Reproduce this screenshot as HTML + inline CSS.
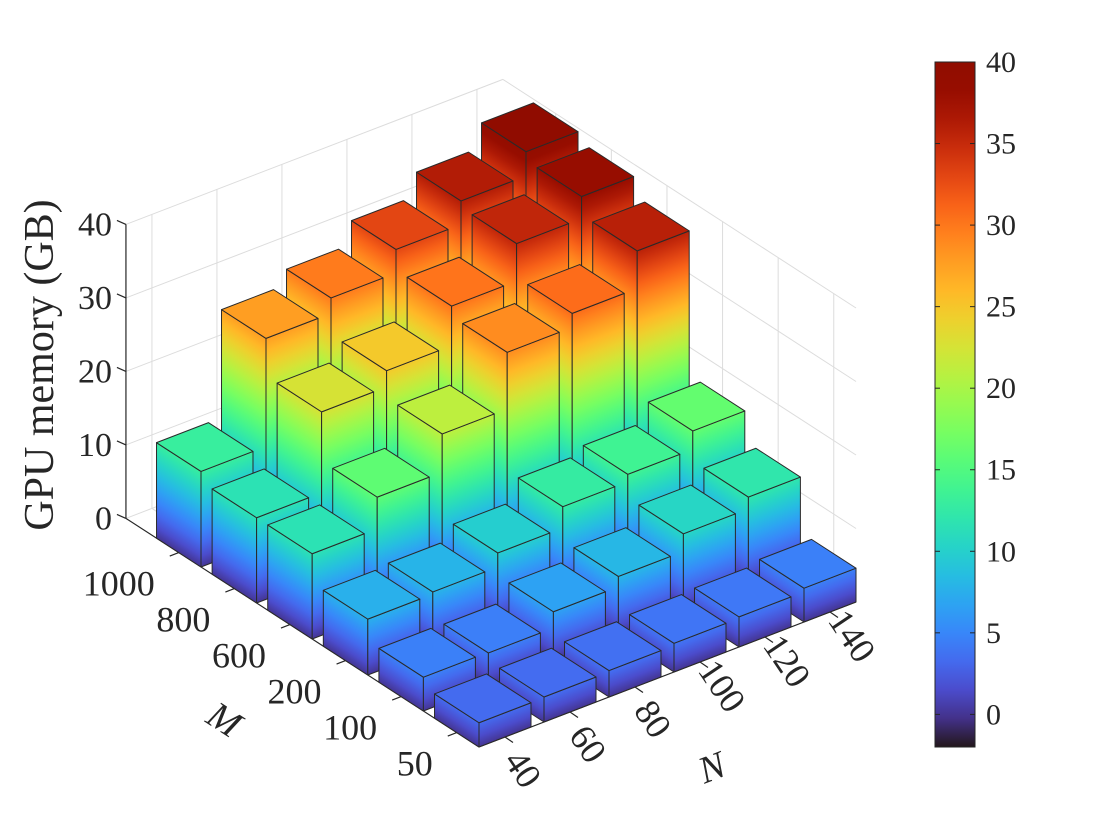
<!DOCTYPE html>
<html><head><meta charset="utf-8">
<style>
html,body{margin:0;padding:0;background:#fff;}
svg{display:block;font-family:"Liberation Serif","DejaVu Serif",serif;}
</style></head>
<body>
<svg id="chart" width="1120" height="840" viewBox="0 0 1120 840" xmlns="http://www.w3.org/2000/svg">
<defs id="defs"></defs>
<g id="grid"></g>
<g id="axes"></g>
<g id="bars"></g>
<g id="labels"></g>
<g id="colorbar"></g>
</svg>
<script>
// ---- data ----
const nLabels = ["40","60","80","100","120","140"];
const mLabels = ["50","100","200","600","800","1000"];
const memM50   = [3.3, 3.4, 3.6, 3.9, 4.1, 4.6];
const memM100  = [4.6, 4.5, 6.7, 8.1, 10.5, 12.1];
const memM200  = [7.6, 7.9, 9.8, 12.7, 13.7, 16.2];
const memM600  = [11.6, 15.9, 21.1, 28.8, 30.7, 35.8];
const memM800  = [11.6, 22.6, 24.8, 30.2, 35.3, 38.3];
const memM1000 = [13.0, 27.7, 29.8, 33.0, 36.2, 39.5];
const zTicks = [0, 10, 20, 30, 40];
const cbTicks = [0, 5, 10, 15, 20, 25, 30, 35, 40];
const colorMin = -2, colorMax = 40;

const rows = [memM50, memM100, memM200, memM600, memM800, memM1000];
const NS = "http://www.w3.org/2000/svg";
const OX = 479, OY = 747, K = 7.35;
const UMAX = nLabels.length - 0.2, VMAX = mLabels.length + 0.35, ZMAX = 40;
function P(u, v, z) { return [OX + 65 * u - 55.6 * v, OY - 25 * u - 36 * v - K * z]; }
function turbo(t) {
  t = Math.max(0, Math.min(1, t));
  const r = 0.13572138 + t*(4.61539260 + t*(-42.66032258 + t*(132.13108234 + t*(-152.94239396 + t*59.28637943))));
  const g = 0.09140261 + t*(2.19418839 + t*(4.84296658 + t*(-14.18503333 + t*(4.27729857 + t*2.82956604))));
  const b = 0.10667330 + t*(12.64194608 + t*(-60.58204836 + t*(110.36276771 + t*(-89.90310912 + t*27.34824973))));
  const c = x => Math.round(255 * Math.max(0, Math.min(1, x)));
  return `rgb(${c(r)},${c(g)},${c(b)})`;
}
function cnorm(z) { return (z - colorMin) / (colorMax - colorMin); }
function mk(tag, attrs, parent) {
  const e = document.createElementNS(NS, tag);
  for (const k in attrs) e.setAttribute(k, attrs[k]);
  if (parent) parent.appendChild(e);
  return e;
}
const defs = document.getElementById('defs');
const gGrid = document.getElementById('grid');
const gAxes = document.getElementById('axes');
const gBars = document.getElementById('bars');
const gLab = document.getElementById('labels');
const gCb = document.getElementById('colorbar');
function line(a, b, stroke, w, parent) {
  return mk('line', {x1: a[0], y1: a[1], x2: b[0], y2: b[1], stroke: stroke, 'stroke-width': w}, parent);
}
function addStops(grad) {
  for (let s = 0; s <= 24; s++) {
    const t = s / 24;
    mk('stop', {offset: t, 'stop-color': turbo(t)}, grad);
  }
}
// ---- grid ----
const GC = "#dcdcdc";
zTicks.forEach(z => {
  const l1 = line(P(0, VMAX, z), P(UMAX, VMAX, z), GC, 1, gGrid);
  
  
  const l2 = line(P(UMAX, VMAX, z), P(UMAX, 0, z), GC, 1, gGrid);
  
  
});
nLabels.forEach((n, i) => {
  const u = i + 0.4;
  const l = line(P(u, VMAX, 0), P(u, VMAX, ZMAX), GC, 1, gGrid);
  
  
  const f = line(P(u, 0, 0), P(u, VMAX, 0), GC, 1, gGrid);
  
  
});
mLabels.forEach((m, j) => {
  const v = j + 0.4;
  const l = line(P(UMAX, v, 0), P(UMAX, v, ZMAX), GC, 1, gGrid);
  
  
  const f = line(P(0, v, 0), P(UMAX, v, 0), GC, 1, gGrid);
  
  
});
// ---- axes ----
const AX = "#262626";
const zAx = line(P(0, VMAX, 0), P(0, VMAX, ZMAX), AX, 1.2, gAxes);


const mAx = line(P(0, 0, 0), P(0, VMAX, 0), AX, 1.2, gAxes);


const nAx = line(P(0, 0, 0), P(UMAX, 0, 0), AX, 1.2, gAxes);


zTicks.forEach(z => {
  const a = P(0, VMAX, z);
  const t = line(a, [a[0] - 9, a[1] - 4], AX, 1.2, gAxes);
  
  
  const tx = mk('text', {x: a[0] - 14, y: a[1] + 11, 'text-anchor': 'end', 'font-size': 34, fill: '#262626'}, gLab);
  tx.textContent = String(z);
  
  
});
mLabels.forEach((m, j) => {
  const a = P(0, j + 0.4, 0);
  const t = line(a, [a[0] - 9, a[1] + 3.5], AX, 1.2, gAxes);
  
  
  const tx = mk('text', {x: a[0] - 24, y: a[1] + 43, 'text-anchor': 'end', 'font-size': 36, fill: '#262626'}, gLab);
  tx.textContent = m;
  
  
});
nLabels.forEach((n, i) => {
  const a = P(i + 0.4, 0, 0);
  const t = line(a, [a[0] + 8, a[1] + 5.5], AX, 1.2, gAxes);
  
  
  const cx = a[0] + (n.length > 2 ? 22 : 18), cy = a[1] + (n.length > 2 ? 24 : 32);
  const tx = mk('text', {x: 0, y: 0, 'text-anchor': 'middle', 'dominant-baseline': 'central', 'font-size': 36, fill: '#262626', transform: `translate(${cx},${cy}) rotate(56)`}, gLab);
  tx.textContent = n;
  
  
});
// axis titles
const yl = mk('text', {x: 0, y: 0, 'text-anchor': 'middle', 'dominant-baseline': 'central', 'font-size': 42, fill: '#262626', transform: 'translate(40,365) rotate(-90)'}, gLab);
yl.textContent = 'GPU memory (GB)';


const ml = mk('text', {x: 0, y: 0, 'text-anchor': 'middle', 'dominant-baseline': 'central', 'font-size': 38, 'font-style': 'italic', fill: '#262626', transform: 'translate(224,720) rotate(33)'}, gLab);
ml.textContent = 'M';


const nl = mk('text', {x: 0, y: 0, 'text-anchor': 'middle', 'dominant-baseline': 'central', 'font-size': 38, 'font-style': 'italic', fill: '#262626', transform: 'translate(712,768) rotate(-21)'}, gLab);
nl.textContent = 'N';


// ---- bars ----
let gid = 0;
function faceGradient(A, B) {
  let dx = B[0] - A[0], dy = B[1] - A[1];
  const L = Math.hypot(dx, dy); dx /= L; dy /= L;
  let nx = -dy, ny = dx;
  if (ny > 0) { nx = -nx; ny = -ny; }
  const s = z => -K * z * ny;
  const s0 = s(colorMin), s1 = s(colorMax);
  const id = 'fg' + (gid++);
  const g = mk('linearGradient', {id: id, gradientUnits: 'userSpaceOnUse',
    x1: A[0] + nx * s0, y1: A[1] + ny * s0, x2: A[0] + nx * s1, y2: A[1] + ny * s1}, defs);
  addStops(g);
  return id;
}
function poly(pts, fill, parent) {
  return mk('polygon', {points: pts.map(p => p[0].toFixed(2) + ',' + p[1].toFixed(2)).join(' '),
    fill: fill, stroke: '#2a2a2a', 'stroke-width': 1, 'stroke-linejoin': 'round'}, parent);
}
const order = [];
rows.forEach((row, j) => row.forEach((h, i) => order.push([i, j])));
order.sort((a, b) => (b[0] + b[1]) - (a[0] + a[1]));
order.forEach(([i, j]) => {
  const h = rows[j][i];
  const u0 = i, u1 = i + 0.8, v0 = j, v1 = j + 0.8;
  const g = mk('g', {}, gBars);
  
  
  const lA = P(u0, v1, 0), lB = P(u0, v0, 0);
  const lf = poly([lA, lB, P(u0, v0, h), P(u0, v1, h)], `url(#${faceGradient(lA, lB)})`, g);
  
  
  const rA = P(u0, v0, 0), rB = P(u1, v0, 0);
  const rf = poly([rA, rB, P(u1, v0, h), P(u0, v0, h)], `url(#${faceGradient(rA, rB)})`, g);
  
  
  const tf = poly([P(u0, v0, h), P(u1, v0, h), P(u1, v1, h), P(u0, v1, h)], turbo(cnorm(h)), g);
  
  
});
// ---- colorbar ----
const CBX = 935, CBW = 40, CBT = 62, CBB = 747;
const cg = mk('linearGradient', {id: 'cbgrad', x1: 0, y1: 1, x2: 0, y2: 0}, defs);
addStops(cg);
const cbr = mk('rect', {x: CBX, y: CBT, width: CBW, height: CBB - CBT, fill: 'url(#cbgrad)', stroke: '#262626', 'stroke-width': 1}, gCb);


function cbY(v) { return CBB - (v - colorMin) / (colorMax - colorMin) * (CBB - CBT); }
cbTicks.forEach(v => {
  const y = cbY(v);
  line([CBX, y], [CBX + 5, y], '#262626', 1, gCb);
  line([CBX + CBW - 5, y], [CBX + CBW, y], '#262626', 1, gCb);
  const tx = mk('text', {x: CBX + CBW + 11, y: y + 10, 'font-size': 30, fill: '#262626'}, gCb);
  tx.textContent = String(v);
  
  
});
</script>
</body></html>
